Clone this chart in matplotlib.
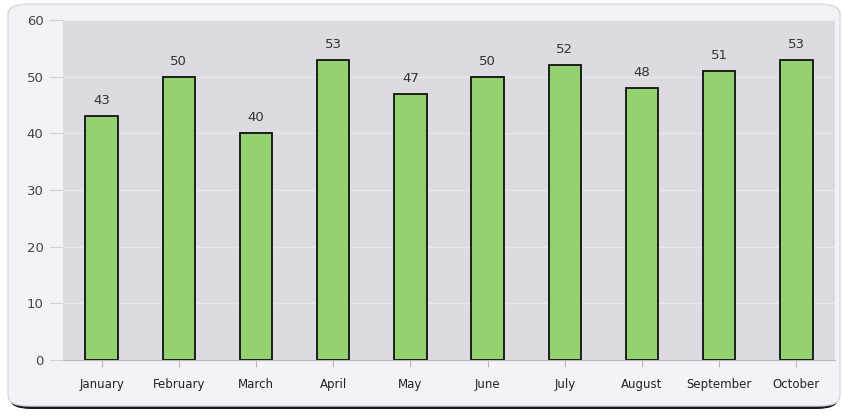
import matplotlib
matplotlib.use("Agg")
import matplotlib.pyplot as plt
from matplotlib.patches import FancyBboxPatch

months = ["January", "February", "March", "April", "May", "June", "July",
          "August", "September", "October"]
values = [43, 50, 40, 53, 47, 50, 52, 48, 51, 53]
labels = ["43", "50", "40", "53", "47", "50", "52", "48", "51", "53"]
yticks = [0, 10, 20, 30, 40, 50, 60]

fig = plt.figure(figsize=(8.42, 4.16), dpi=100)
fig.patch.set_facecolor("white")

# shadow and outer rounded panel
shadow = FancyBboxPatch((10 / 842, 1 - 409 / 416), 828 / 842, 404 / 416,
                        boxstyle="round,pad=0,rounding_size=0.025",
                        transform=fig.transFigure, facecolor="#1a1a1a",
                        edgecolor="none", zorder=-3)
fig.patches.append(shadow)
panel = FancyBboxPatch((8 / 842, 1 - 406 / 416), 832 / 842, 402 / 416,
                       boxstyle="round,pad=0,rounding_size=0.025",
                       transform=fig.transFigure, facecolor="#f3f2f7",
                       edgecolor="#d8d8de", linewidth=1.0, zorder=-2)
fig.patches.append(panel)

ax = fig.add_axes([63 / 842, 1 - 360 / 416, 772 / 842, 340 / 416])
ax.set_zorder(1)
ax.set_facecolor("#dcdbe2")
x = list(range(len(months)))
bars = ax.bar(x, values, width=0.42, color="#93d26f", edgecolor="#111111",
              linewidth=1.3, zorder=3)
for xi, v, lab in zip(x, values, labels):
    ax.text(xi, v + 1.6, lab, ha="center", va="bottom", fontsize=9.5,
            color="#333333", zorder=4)

ax.set_xlim(-0.5, len(months) - 0.5)
ax.set_ylim(0, 60)
ax.set_yticks(yticks)
ax.set_yticklabels([str(t) for t in yticks], fontsize=9.5, color="#444444")
ax.set_xticks(x)
ax.set_xticklabels(months, fontsize=8.5, color="#222222",
                   family=["Liberation Sans Narrow", "DejaVu Sans"])
ax.grid(axis="y", color="#e8e7ee", linewidth=1.0, zorder=1)
for s in ["top", "right", "left"]:
    ax.spines[s].set_visible(False)
ax.spines["bottom"].set_color("#b8b8c0")
ax.tick_params(axis="y", length=10, color="#d0d0d8", pad=4)
ax.tick_params(axis="x", length=5, color="#b8b8c0", pad=8)

fig.savefig("out.png", dpi=100, facecolor=fig.get_facecolor())
